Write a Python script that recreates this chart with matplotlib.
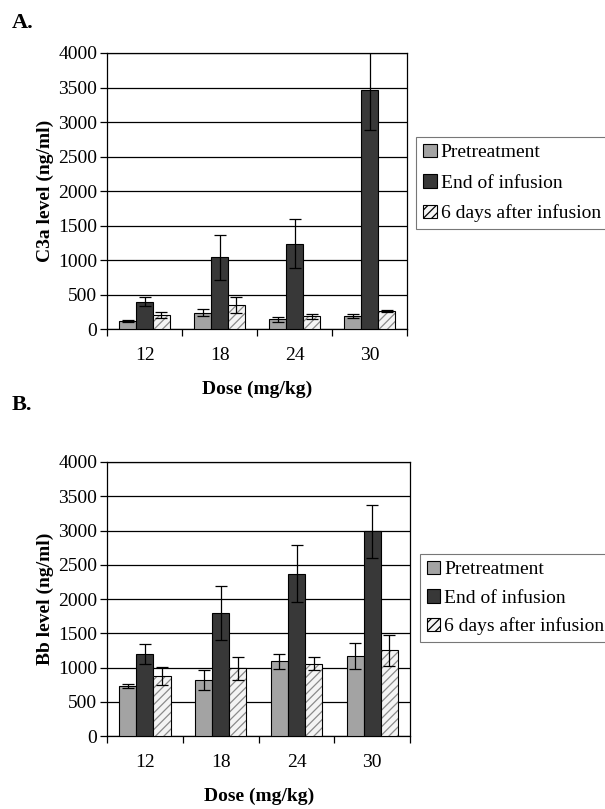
import numpy as np
import matplotlib
matplotlib.use('Agg')
from matplotlib import pyplot as plt
from matplotlib.patches import Patch

plt.rcParams['font.family'] = ['Liberation Serif', 'DejaVu Serif']
plt.rcParams['hatch.linewidth'] = 0.9

doses = ['12', '18', '24', '30']
series = ['Pretreatment', 'End of infusion', '6 days after infusion']

# panel A: C3a
c3a_pre = [120, 240, 145, 195]
c3a_pre_err = [10, 50, 35, 30]
c3a_end = [400, 1040, 1240, 3470]
c3a_end_err = [70, 330, 360, 590]
c3a_six = [210, 350, 185, 265]
c3a_six_err = [40, 115, 40, 10]

# panel B: Bb
bb_pre = [730, 820, 1090, 1170]
bb_pre_err = [30, 140, 115, 190]
bb_end = [1200, 1800, 2370, 2990]
bb_end_err = [150, 395, 415, 385]
bb_six = [880, 990, 1060, 1250]
bb_six_err = [130, 170, 100, 225]

fig = plt.figure(figsize=(6.05, 8.09), dpi=100)


def panel(rect, vals, errs, ylabel, letter, letter_y, leg_anchor, leg_space):
	ax = fig.add_axes(rect)
	x = np.arange(len(doses))
	w = 0.225
	styles = [dict(color='#a3a3a3'), dict(color='#383838'),
			  dict(color='#f4f4f4', hatch='////')]
	handles = []
	for i, (v, e, st) in enumerate(zip(vals, errs, styles)):
		bars = ax.bar(x + (i - 1) * w, v, w, yerr=e, edgecolor='black', linewidth=0.8,
					  error_kw=dict(ecolor='black', elinewidth=0.9, capsize=4, capthick=0.9),
					  zorder=3, **st)
		if i == 2:
			# grey hatch, black outline on top
			for b in bars:
				b.set_edgecolor('#8a8a8a')
				b.set_linewidth(0)
			ax.bar(x + (i - 1) * w, v, w, fill=False, edgecolor='black', linewidth=0.8, zorder=3)
		handles.append(Patch(facecolor=st['color'], edgecolor='black', hatch=st.get('hatch'),
							 linewidth=0.8, label=series[i]))
	ax.set_xlim(-0.5, len(doses) - 0.5)
	ax.set_ylim(0, 4000)
	ax.set_yticks(np.arange(0, 4001, 500))
	ax.yaxis.grid(True, color='black', linewidth=0.9, zorder=0)
	ax.set_axisbelow(True)
	ax.set_xticks(x)
	ax.set_xticklabels(doses)
	ax.set_xticks(np.arange(-0.5, len(doses), 1), minor=True)
	ax.tick_params(axis='x', which='major', length=0, labelsize=14, pad=13)
	ax.tick_params(axis='x', which='minor', length=5, direction='out', width=0.9)
	ax.tick_params(axis='y', length=5, width=0.9, labelsize=14, pad=2)
	for s in ax.spines.values():
		s.set_linewidth(0.9)
	ax.set_ylabel(ylabel, fontsize=14, fontweight='bold', labelpad=3)
	ax.set_xlabel('Dose (mg/kg)', fontsize=14, fontweight='bold', labelpad=12)
	fig.text(0.02, letter_y, letter, fontsize=16, fontweight='bold', va='center')
	leg = ax.legend(handles=handles, loc='upper left', bbox_to_anchor=leg_anchor,
					bbox_transform=fig.transFigure, fontsize=14, frameon=True, fancybox=False,
					handlelength=0.7, handleheight=0.7, handletextpad=0.2, borderpad=0.35,
					labelspacing=leg_space, borderaxespad=0)
	leg.get_frame().set_edgecolor('#555555')
	leg.get_frame().set_linewidth(0.8)
	return ax


panel([0.177, 0.593, 0.496, 0.3415], [c3a_pre, c3a_end, c3a_six],
	  [c3a_pre_err, c3a_end_err, c3a_six_err], 'C3a level (ng/ml)', 'A.', 0.972,
	  (0.688, 1 - 137 / 809), 0.65)
panel([0.177, 0.090, 0.501, 0.339], [bb_pre, bb_end, bb_six],
	  [bb_pre_err, bb_end_err, bb_six_err], 'Bb level (ng/ml)', 'B.', 0.5,
	  (0.694, 1 - 554 / 809), 0.55)

fig.savefig('out.png', dpi=100)
